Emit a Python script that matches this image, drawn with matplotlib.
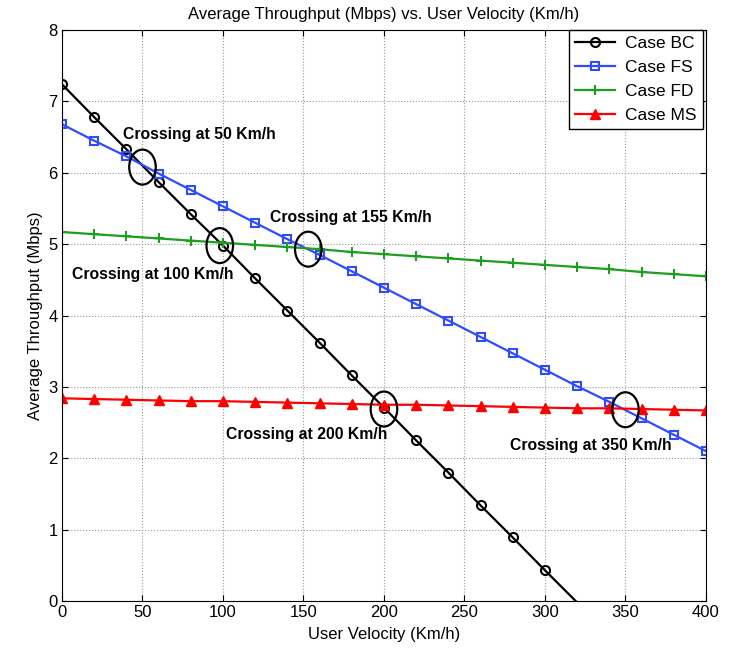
import numpy as np
import matplotlib
matplotlib.use('Agg')
import matplotlib.pyplot as plt
from matplotlib.patches import Ellipse

plt.rcParams['font.family'] = ['Liberation Sans', 'DejaVu Sans']

# user velocity (Km/h)
velocity = [0, 20, 40, 60, 80, 100, 120, 140, 160, 180, 200,
            220, 240, 260, 280, 300, 320, 340, 360, 380, 400]

# average throughput (Mbps)
case_bc = [7.24, 6.78, 6.33, 5.87, 5.42, 4.98, 4.52, 4.07, 3.62, 3.16, 2.71,
           2.25, 1.80, 1.34, 0.89, 0.43, -0.02, -0.48, -0.93, -1.39, -1.84]
case_fs = [6.68, 6.45, 6.23, 5.99, 5.76, 5.53, 5.30, 5.07, 4.85, 4.62, 4.39,
           4.16, 3.93, 3.70, 3.47, 3.24, 3.01, 2.79, 2.56, 2.33, 2.10]
case_fd = [5.17, 5.14, 5.11, 5.08, 5.05, 5.02, 4.99, 4.96, 4.93, 4.89, 4.86,
           4.83, 4.80, 4.77, 4.74, 4.71, 4.68, 4.65, 4.61, 4.58, 4.55]
case_ms = [2.84, 2.83, 2.82, 2.81, 2.80, 2.80, 2.79, 2.78, 2.77, 2.76, 2.75,
           2.75, 2.74, 2.73, 2.72, 2.71, 2.70, 2.70, 2.69, 2.68, 2.67]

# crossing points (velocity, throughput) and their labels
cross_x = [50, 98, 153, 200, 350]
cross_y = [6.08, 4.98, 4.93, 2.69, 2.68]
label_text = ['Crossing at 50 Km/h', 'Crossing at 100 Km/h', 'Crossing at 155 Km/h',
              'Crossing at 200 Km/h', 'Crossing at 350 Km/h']
label_x = [38, 6, 129, 102, 278]
label_y = [6.54, 4.58, 5.38, 2.33, 2.18]

fig = plt.figure(figsize=(7.47, 6.51), dpi=100)
ax = fig.add_axes([0.083, 0.0768, 0.862, 0.877])

# markers below the axis are not shown in the reference
visible = [v >= 0 for v in case_bc]
ax.plot(velocity, case_bc, color='black', linewidth=1.6, marker='o',
        markersize=6.5, markerfacecolor='none', markeredgewidth=1.5,
        markevery=visible, label='Case BC')
ax.plot(velocity, case_fs, color='#2f4bff', linewidth=1.6, marker='s',
        markersize=5.5, markerfacecolor='none', markeredgewidth=1.5, label='Case FS')
ax.plot(velocity, case_fd, color='#1e9e1e', linewidth=1.6, marker='+',
        markersize=7, markeredgewidth=1.5, label='Case FD')
ax.plot(velocity, case_ms, color='#ff0000', linewidth=1.6, marker='^',
        markersize=7.5, label='Case MS')

for cx, cy in zip(cross_x, cross_y):
    ax.add_patch(Ellipse((cx, cy), 16.5, 0.49, fill=False, edgecolor='black',
                         linewidth=1.6, zorder=5))

for t, tx, ty in zip(label_text, label_x, label_y):
    ax.text(tx, ty, t, fontsize=11.3, fontweight='bold', va='center', ha='left')

ax.set_xlim(0, 400)
ax.set_ylim(0, 8)
ax.set_xticks(np.arange(0, 401, 50))
ax.set_yticks(np.arange(0, 9, 1))
ax.tick_params(direction='in', top=True, right=True, labelsize=12, length=4, pad=3)
ax.grid(True, linestyle=':', color='#999999', linewidth=0.8)

ax.set_title('Average Throughput (Mbps) vs. User Velocity (Km/h)', fontsize=12, pad=8)
ax.set_xlabel('User Velocity (Km/h)', fontsize=12, labelpad=5)
ax.set_ylabel('Average Throughput (Mbps)', fontsize=12, labelpad=4)

leg = ax.legend(loc='upper right', bbox_to_anchor=(0.995, 1.0), borderaxespad=0,
                fontsize=12.5, fancybox=False, framealpha=1, edgecolor='black',
                handlelength=2.3, labelspacing=0.5, borderpad=0.35, handletextpad=0.6)
leg.get_frame().set_linewidth(1.0)

plt.savefig('out.png', dpi=100)
